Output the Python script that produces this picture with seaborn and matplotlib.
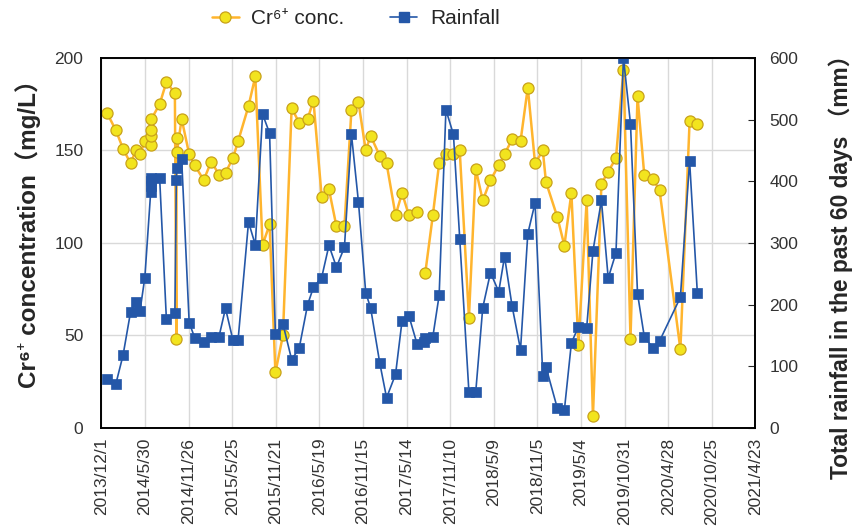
import numpy as np
import pandas as pd
import matplotlib
matplotlib.use("Agg")
import matplotlib.pyplot as plt
import seaborn as sns

# ---------------- data ----------------
start_date = "2013-12-01"
# days since start_date for each Cr(VI) sample (NaN value = break in line)
cr_days = [24, 59, 89, 120, 142, 159, 179, 203, 204, 205, 206, 240, 268, 303, 309, 310, 311,
           331, 362, 385, 422, 453, 485, 512, 543, 564, 607, 635, 665, 694, 718, 749, 785,
           816, 851, 875, 909, 939, 970, 1003, 1032, 1061, 1091, 1111, 1149, 1177, 1214,
           1241, 1269, 1303, 1332, 1337, 1368, 1394, 1422, 1453, 1479, 1517, 1545, 1574,
           1606, 1640, 1664, 1695, 1730, 1760, 1790, 1822, 1835, 1882, 1911, 1940, 1969,
           2003, 2029, 2064, 2092, 2124, 2155, 2184, 2213, 2241, 2276, 2304, 2390, 2428, 2460]
cr_values = [170, 161, 151, 143, 150, 148, 155, 153, 158, 161, 167, 175, 187, 181, 48, 157, 149,
             167, 148, 142, 134, 144, 137, 138, 146, 155, 174, 190, 99, 110, 30, 50, 173,
             165, 167, 177, 125, 129, 109, 109, 172, 176, 150, 158, 147, 143, 115,
             127, 115, 117, np.nan, 84, 115, 143, 148, 148, 150, 59.6, 140, 123,
             134, 142, 148, 156, 155, 184, 143, 150, 133, 114, 98.6, 127, 45,
             123, 6.3, 132, 138.6, 145.8, 193.7, 48.3, 179.3, 136.6, 134.7, 128.5, 42.5, 165.8, 164.5]

rain_days = [24, 59, 89, 120, 142, 159, 179, 203, 204, 205, 206, 240, 268, 303, 309, 310,
             331, 362, 385, 422, 453, 485, 512, 543, 564, 607, 635, 665, 694, 718, 749, 785,
             816, 851, 875, 909, 939, 970, 1003, 1032, 1061, 1091, 1111, 1149, 1177, 1214,
             1241, 1269, 1303, 1332, 1337, 1368, 1394, 1422, 1453, 1479, 1517, 1545, 1574,
             1606, 1640, 1664, 1695, 1730, 1760, 1790, 1822, 1835, 1882, 1911, 1940, 1969,
             2003, 2029, 2064, 2092, 2124, 2155, 2184, 2213, 2241, 2276, 2304, 2390, 2428, 2460]
rain_values = [79, 71, 118, 188, 204, 190, 244, 382, 392, 401, 406, 406, 176, 186, 402, 422,
               436, 171, 146, 140, 148, 148, 194, 142, 143, 334, 297, 509, 478, 153, 169, 111,
               129, 200, 228, 244, 296, 261, 293, 476, 366, 219, 195, 105, 49, 87,
               174, 182, 136, 140, 146, 148, 215, 516, 476, 307, 58, 58, 195,
               252, 221, 278, 198, 127, 315, 365, 84, 99, 32, 29, 138, 164,
               162, 287, 369, 243, 284, 600, 493, 218, 148, 130, 141, 212, 433, 219]

tick_labels = ["2013/12/1", "2014/5/30", "2014/11/26", "2015/5/25", "2015/11/21", "2016/5/19",
               "2016/11/15", "2017/5/14", "2017/11/10", "2018/5/9", "2018/11/5", "2019/5/4",
               "2019/10/31", "2020/4/28", "2020/10/25", "2021/4/23"]

# ---------------- frames ----------------
t0 = pd.Timestamp(start_date)
cr_df = pd.DataFrame({"date": t0 + pd.to_timedelta(cr_days, unit="D"), "cr": cr_values})
cr_df["seg"] = np.cumsum(cr_df["cr"].isna().astype(int))
cr_df = cr_df.dropna()
rain_df = pd.DataFrame({"date": t0 + pd.to_timedelta(rain_days, unit="D"), "rain": rain_values})

# ---------------- style ----------------
sns.set_style("white")
FONT = ["Liberation Sans", "Noto Sans", "DejaVu Sans", "Noto Sans CJK JP"]
plt.rcParams["font.family"] = FONT

fig = plt.figure(figsize=(8.55, 5.31), dpi=100)
ax = fig.add_axes([0.1187, 0.194, 0.7649, 0.6968])
ax2 = ax.twinx()

cr_line = "#FFB52E"
cr_fill = "#F2E41E"
cr_edge = "#C9A21A"
rain_col = "#2457A8"
tick_col = "#333333"

sns.lineplot(data=cr_df, x="date", y="cr", units="seg", estimator=None, ax=ax,
             color=cr_line, linewidth=1.8, marker="o", markersize=8,
             markerfacecolor=cr_fill, markeredgecolor=cr_edge, markeredgewidth=0.9,
             legend=False)
sns.lineplot(data=rain_df, x="date", y="rain", estimator=None, ax=ax2,
             color=rain_col, linewidth=1.2, marker="s", markersize=6.5,
             markerfacecolor=rain_col, markeredgecolor=rain_col, markeredgewidth=0.5,
             legend=False)

tick_pos = pd.to_datetime(tick_labels, format="%Y/%m/%d")
ax.set_xlim(tick_pos[0], tick_pos[-1])
ax.set_xticks(tick_pos)
ax.set_xticklabels(tick_labels, rotation=90, fontsize=12.5, color=tick_col)

ax.set_ylim(0, 200)
ax.set_yticks([0, 50, 100, 150, 200])
ax2.set_ylim(0, 600)
ax2.set_yticks([0, 100, 200, 300, 400, 500, 600])
ax.tick_params(axis="y", labelsize=12.5, length=0, pad=13, labelcolor=tick_col)
ax.tick_params(axis="x", length=4, direction="out", pad=3, color="#888888")
ax2.tick_params(axis="y", labelsize=12.5, length=5, direction="in", pad=10, labelcolor=tick_col)

ax.grid(True, color="#d9d9d9", linewidth=1.0)
ax2.grid(False)
ax.set_axisbelow(True)
for a in (ax, ax2):
    for sp in a.spines.values():
        sp.set_color("black")
        sp.set_linewidth(1.2)

ax.set_xlabel("")
ax.set_ylabel("Cr⁶⁺ concentration（mg/L）", fontsize=17.5, fontweight="bold")
ax.yaxis.set_label_coords(-0.093, 0.54)
ax2.set_ylabel("Total rainfall in the past 60 days （mm）", fontsize=16.4, fontweight="bold")
ax2.yaxis.set_label_coords(1.111, 0.45)

h1 = plt.Line2D([], [], color=cr_line, linewidth=1.8, marker="o", markersize=8,
                markerfacecolor=cr_fill, markeredgecolor=cr_edge, markeredgewidth=0.9)
h2 = plt.Line2D([], [], color=rain_col, linewidth=1.2, marker="s", markersize=6.5,
                markerfacecolor=rain_col, markeredgecolor=rain_col)
fig.legend([h1, h2], ["Cr⁶⁺ conc.", "Rainfall"], loc="center", bbox_to_anchor=(0.4158, 0.965),
           ncol=2, frameon=False, fontsize=15, handlelength=1.3, handletextpad=0.6,
           columnspacing=2.2)

fig.savefig("out.png", dpi=100)
